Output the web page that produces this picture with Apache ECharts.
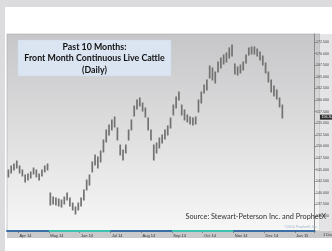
<!DOCTYPE html>
<html>
<head>
<meta charset="utf-8">
<script src="https://cdn.jsdelivr.net/npm/echarts@6/dist/echarts.min.js"></script>
<style>
html,body{margin:0;padding:0;background:#dcdcde;}
#chart{width:332px;height:251px;}
</style>
</head>
<body>
<div id="chart"></div>
<script>
// ---- data (price, $/cwt); one bar ≈ two trading days ----
const highs = [144.92,145.78,146.21,146.85,145.78,144.92,143.84,144.05,144.49,145.35,144.92,144.05,144.92,145.78,146.21,
  139.96,139.10,138.88,138.67,138.45,139.10,139.96,138.88,137.80,136.94,137.80,138.88,140.61,142.76,143.84,
  146.64,148.15,147.72,149.01,151.38,153.54,154.61,155.69,156.34,153.97,150.30,149.23,150.30,153.54,155.69,
  158.71,160.00,160.43,159.35,158.28,156.12,153.54,150.30,150.73,151.81,152.46,153.54,154.40,156.12,158.92,
  160.65,161.73,158.92,157.85,156.77,156.34,156.12,156.34,160.00,161.73,163.23,164.31,167.33,166.90,166.03,
  168.19,169.05,169.70,170.13,171.21,171.85,167.76,167.11,167.54,168.19,169.70,171.21,171.42,171.42,170.99,
  170.34,169.48,167.97,166.03,164.31,163.02,162.16,160.43,158.92];
const lows = [143.41,144.27,144.92,145.35,144.27,143.62,142.33,142.76,143.19,144.05,143.41,142.76,143.62,144.49,144.92,
  137.37,137.59,137.37,137.16,136.94,137.59,138.45,137.16,136.30,135.43,136.30,137.16,138.45,140.61,141.68,
  144.49,145.99,145.35,146.64,148.80,150.95,152.46,153.54,154.18,151.38,148.15,147.07,148.58,151.38,153.54,
  156.55,158.06,158.71,157.63,156.34,153.54,151.38,147.07,148.58,149.66,150.73,151.60,152.46,153.97,156.77,
  158.28,160.00,156.77,155.69,155.26,154.83,154.61,154.83,157.41,159.35,161.51,162.16,164.74,164.31,163.66,
  166.03,166.90,167.76,168.19,169.05,169.48,165.60,165.39,165.82,166.47,167.97,169.70,169.91,169.91,169.48,
  168.62,167.54,165.82,163.88,161.73,160.86,160.22,158.49,156.12];
const lastPrice = 156.30;
const totalSlots = 110;                       // bar slots across the axis (incl. empty right margin)
const monthLabels = ['Apr 14','May 14','Jun 14','Jul 14','Aug 14','Sep 14','Oct 14','Nov 14','Dec 14','Jan 15'];
const monthStarts = [4,15,26,37,48,59,70,81,92,103];
const priceTicks = [135,137.5,140,142.5,145,147.5,150,152.5,155,157.5,160,162.5,165,167.5,170,172.5];
const highlightMonths = [[15,37],[59,81]];    // teal spans on the date strip
const titleLines = ['Past 10 Months:','Front Month Continuous Live Cattle','(Daily)'];
const sourceText = 'Source: Stewart-Peterson Inc. and ProphetX';

const categories = [];
for (let i = 0; i < totalSlots; i++) categories.push(String(i));
const ohlc = highs.map((h, i) => [i, lows[i], h]);
const labelAt = {};
monthStarts.forEach((s, k) => labelAt[s] = monthLabels[k]);

const chart = echarts.init(document.getElementById('chart'), null, {renderer:'canvas', width:332, height:251});

const G = {left:7, top:34, right:320, bottom:231};

const option = {
  animation:false,
  backgroundColor:'#dcdcde',
  grid:{left:G.left, right:332-G.right, top:G.top, bottom:251-G.bottom, containLabel:false},
  xAxis:{
    type:'category', data:categories, boundaryGap:true,
    axisLine:{lineStyle:{color:'#3b6fa6', width:2}},
    axisTick:{show:true, interval:(i)=> labelAt[i]!==undefined, length:2, lineStyle:{color:'#555',width:0.6}},
    axisLabel:{show:true, interval:(i)=> labelAt[i]!==undefined, formatter:(v,i)=> labelAt[i]||'',
      fontSize:4, color:'#333', align:'left', margin:2.5, fontFamily:'Liberation Sans'},
    splitLine:{show:false}
  },
  yAxis:{
    type:'value', position:'right', min:131.77, max:174.22, scale:true,
    axisLine:{show:true, lineStyle:{color:'#8a8a8a', width:1}},
    axisTick:{show:true, customValues:priceTicks, length:2, lineStyle:{color:'#666', width:0.6}},
    axisLabel:{show:true, customValues:priceTicks, formatter:(v)=> v.toFixed(3), fontSize:3.6, color:'#444', margin:1.5, fontFamily:'Liberation Sans'},
    splitLine:{show:false}
  },
  series:[{
    type:'custom', data:ohlc, z:5, clip:true,
    renderItem:(params, api)=>{
      const x = api.value(0);
      const pHi = api.coord([x, api.value(2)]);
      const pLo = api.coord([x, api.value(1)]);
      return {type:'line', shape:{x1:pHi[0], y1:pHi[1]-0.5, x2:pLo[0], y2:pLo[1]+0.5},
        style:{stroke:'#727272', lineWidth:1.7}};
    }
  }]
};
chart.setOption(option);

// background layers and annotations positioned through the chart's own scales
const xPix = (idx)=> chart.convertToPixel({xAxisIndex:0}, idx);
const bandW = (G.right - G.left) / totalSlots;
const graphics = [
  {type:'rect', z:-20, silent:true, shape:{x:5, y:7, width:327, height:244}, style:{fill:'#ffffff'}},
  {type:'rect', z:-19, silent:true, shape:{x:G.left, y:G.top, width:G.right-G.left, height:G.bottom-G.top},
    style:{fill:new echarts.graphic.LinearGradient(0,0,0,1,[{offset:0,color:'#c6c6c8'},{offset:1,color:'#f7f7f7'}]), stroke:'#a8a8a8', lineWidth:0.6}},
  {type:'rect', z:-19, silent:true, shape:{x:G.right, y:G.top, width:12, height:G.bottom-G.top}, style:{fill:'#e4e4e6'}},
  {type:'rect', z:-19, silent:true, shape:{x:G.left, y:G.bottom, width:325, height:7}, style:{fill:'#c9c9cb'}},
];
highlightMonths.forEach(([a,b])=>{
  const x1 = xPix(a) - bandW/2, x2 = xPix(b) - bandW/2;
  graphics.push({type:'rect', z:10, silent:true, shape:{x:x1, y:G.bottom-1, width:x2-x1, height:2}, style:{fill:'#3fc1b0'}});
});
// title box
graphics.push({type:'rect', z:20, silent:true, shape:{x:18, y:40, width:153, height:36}, style:{fill:'#dbe5f2', stroke:'#c9d6e6', lineWidth:0.5}});
titleLines.forEach((t,k)=>{
  graphics.push({type:'text', z:21, silent:true, x:94.5, y:47+k*11.5,
    style:{text:t, fill:'#111', font:'bold 8.8px Lato', align:'center', verticalAlign:'middle'}});
});
graphics.push({type:'text', z:21, silent:true, x:326, y:217,
  style:{text:sourceText, fill:'#333', font:'7.3px Lato', align:'right', verticalAlign:'middle'}});
graphics.push({type:'text', z:21, silent:true, x:318, y:227.5,
  style:{text:'©2014 ProphetX, Inc.', fill:'#9fb3c8', font:'3.5px Liberation Sans', align:'right', verticalAlign:'middle'}});
graphics.push({type:'text', z:21, silent:true, x:323, y:235,
  style:{text:'1 Day', fill:'#333', font:'4px Liberation Sans', align:'left', verticalAlign:'middle'}});
// last price tag on the price axis
const yLast = chart.convertToPixel({yAxisIndex:0}, lastPrice);
graphics.push({type:'rect', z:22, silent:true, shape:{x:G.right, y:yLast-2.5, width:12, height:5}, style:{fill:'#2b2b2b'}});
graphics.push({type:'text', z:23, silent:true, x:G.right+1.5, y:yLast,
  style:{text:lastPrice.toFixed(3), fill:'#fff', font:'3.6px Liberation Sans', align:'left', verticalAlign:'middle'}});
chart.setOption({graphic:{elements:graphics}});
</script>
</body>
</html>
